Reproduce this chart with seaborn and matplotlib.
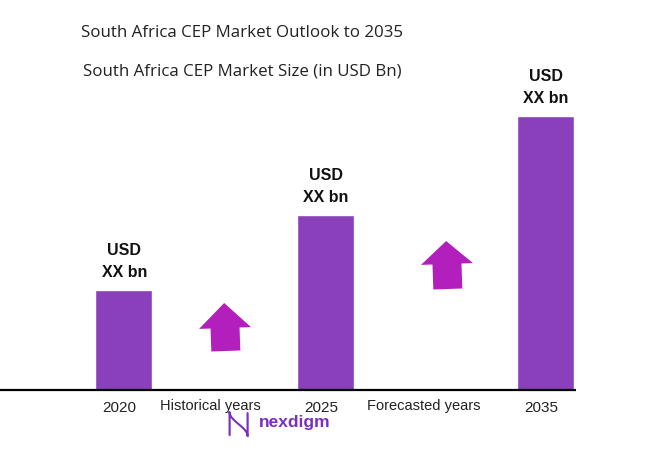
import numpy as np
import pandas as pd
import matplotlib
matplotlib.use("Agg")
import matplotlib.pyplot as plt
import seaborn as sns
from matplotlib.patches import Polygon
from matplotlib.transforms import Affine2D

# ---- data ----
years = ["2020", "2025", "2035"]
market_size = [1.00, 1.75, 2.74]          # relative bar heights (values hidden as "XX")
value_labels = ["USD\nXX bn", "USD\nXX bn", "USD\nXX bn"]
period_labels = ["Historical years", "Forecasted years"]
title_main = "South Africa CEP Market Outlook to 2035"
title_sub = "South Africa CEP Market Size (in USD Bn)"

# ---- layout (pixels) ----
W, H = 646, 465
bar_x = [123.5, 325, 545]
period_x = [210, 424]
bar_color = "#8A40BA"
arrow_color = "#B21FBC"

sns.set_theme(style="white")
plt.rcParams["font.family"] = ["Liberation Sans", "DejaVu Sans"]

fig = plt.figure(figsize=(W / 100, H / 100), dpi=100)
ax = fig.add_axes([0, 0, 1, 1])

df = pd.DataFrame({"x": bar_x, "size": market_size})
sns.barplot(data=df, x="x", y="size", native_scale=True,
            width=57 / (bar_x[1] - bar_x[0]), color=bar_color,
            saturation=1, ax=ax)

ax.set_xlim(0, W)
ax.set_ylim(-(H - 390) / 100, 390 / 100)
ax.axis("off")

for x, v, lab in zip(bar_x, market_size, value_labels):
    usd, val = lab.split("\n")
    ax.text(x + 1, v + 0.40, usd, ha="center", va="center", fontsize=11.5,
            fontweight="bold", color="#111111")
    ax.text(x + 1, v + 0.175, val, ha="center", va="center", fontsize=11.5,
            fontweight="bold", color="#111111")

# overlay in pixel coords
ov = fig.add_axes([0, 0, 1, 1], facecolor="none")
ov.set_xlim(0, W)
ov.set_ylim(H, 0)
ov.axis("off")

ov.plot([0, 576], [390, 390], color="black", lw=1.6, solid_capstyle="butt")

for x, y in zip(bar_x, years):
    ov.text(x - 4, 408, y, ha="center", va="center", fontsize=11, color="#222222")
for x, t in zip(period_x, period_labels):
    ov.text(x, 406, t, ha="center", va="center", fontsize=10.5, color="#222222")

fig.text(242 / W, 1 - 33 / H, title_main, ha="center", va="center",
         fontsize=12.2, color="#222222", family=["Open Sans", "DejaVu Sans"])
fig.text(242 / W, 1 - 72 / H, title_sub, ha="center", va="center",
         fontsize=12.2, color="#222222", family=["Open Sans", "DejaVu Sans"])


def up_arrow(tx, ty, hw=26, hh=25, sw=14.5, total=48, angle=-2):
    pts = np.array([
        [tx, ty], [tx + hw, ty + hh], [tx + sw, ty + hh], [tx + sw, ty + total],
        [tx - sw, ty + total], [tx - sw, ty + hh], [tx - hw, ty + hh]])
    tr = Affine2D().rotate_deg_around(tx, ty + total / 2, angle) + ov.transData
    ov.add_patch(Polygon(pts, closed=True, color=arrow_color, transform=tr, lw=0))


up_arrow(225, 303, hh=25, total=48)
up_arrow(447, 241, hh=23, total=48)

# logo (N-shaped wave icon + wordmark)
s = np.linspace(0, 1, 60)
for off, a, lw in [(0, 1.0, 1.4), (1.8, 0.45, 1.0)]:
    xs = np.concatenate([np.full(10, 229.5 + off * 0.4),
                         238.5 + off * 0.4 - 9.0 * np.cos(np.pi * s),
                         np.full(10, 247.5 + off * 0.4)])
    ys = np.concatenate([np.linspace(435, 412, 10),
                         412 + 24 * s,
                         np.linspace(436, 413, 10)])
    ov.plot(xs, ys + off * 0.5, color="#7B2FBE", lw=lw, alpha=a)
ov.text(259, 422, "nexdigm", ha="left", va="center", fontsize=12.5,
        fontweight="bold", color="#7B2FBE")

fig.savefig("out.png", dpi=100)
